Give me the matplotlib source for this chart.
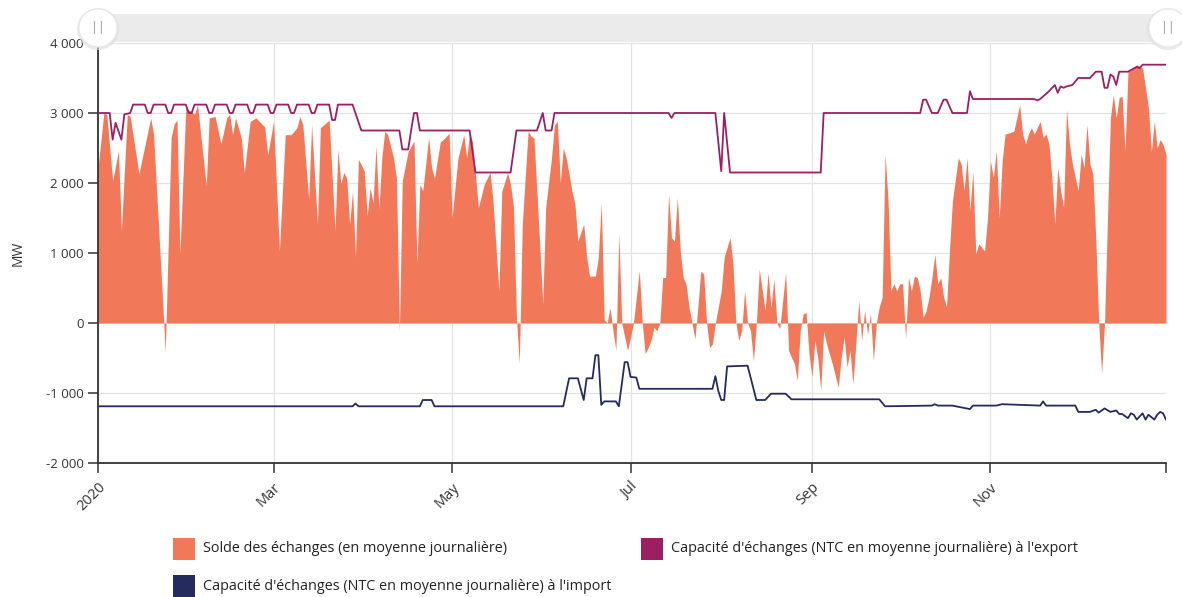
import matplotlib
matplotlib.use("Agg")
import matplotlib.pyplot as plt
import matplotlib.dates as mdates
from matplotlib.patches import Rectangle, Ellipse
from matplotlib.ticker import FuncFormatter, FixedLocator
import pandas as pd

plt.rcParams['font.family'] = ['Open Sans', 'DejaVu Sans']

START = pd.Timestamp('2020-01-01')

# daily exchange balance (MW): day of year, value
solde_day = [0, 2, 3, 5, 7, 8, 10, 11, 14, 18, 19, 22, 23, 25, 26, 27, 28, 30, 32, 33,
             34, 37, 38, 40, 42, 44, 45, 46, 47, 49, 50, 52, 54, 57, 58, 60, 62, 64, 66, 68,
             69, 70, 72, 73, 75, 76, 78, 79, 81, 82, 83, 84, 85, 86, 87, 88, 89, 91, 92, 93,
             94, 95, 96, 97, 98, 99, 101, 102, 103, 104, 106, 108, 109, 110, 111, 113, 114, 115, 117, 118,
             120, 121, 123, 125, 126, 127, 128, 130, 132, 134, 135, 137, 138, 140, 141, 142, 143, 144, 145, 147,
             148, 149, 150, 152, 153, 155, 156, 157, 158, 159, 160, 162, 163, 164, 166, 167, 168, 170, 171, 172,
             173, 174, 175, 176, 177, 178, 179, 180, 181, 182, 183, 185, 186, 187, 188, 189, 190, 191, 192, 193,
             194, 195, 196, 197, 198, 199, 200, 201, 202, 203, 204, 205, 206, 207, 208, 209, 210, 211, 213, 214,
             216, 217, 218, 219, 220, 221, 222, 223, 224, 225, 226, 228, 229, 230, 231, 232, 233, 235, 236, 237,
             238, 239, 240, 241, 242, 243, 244, 245, 246, 247, 248, 249, 251, 253, 254, 255, 256, 257, 258, 259,
             260, 261, 262, 263, 264, 265, 266, 267, 268, 269, 270, 271, 272, 273, 274, 275, 276, 277, 278, 279,
             280, 281, 282, 283, 284, 285, 286, 287, 288, 289, 290, 291, 292, 294, 295, 296, 297, 298, 299, 300,
             301, 302, 303, 304, 305, 306, 307, 308, 309, 310, 311, 313, 314, 315, 316, 317, 318, 319, 320, 321,
             322, 323, 324, 325, 326, 327, 328, 329, 330, 331, 332, 333, 335, 336, 337, 338, 339, 340, 341, 342,
             343, 344, 345, 346, 347, 348, 349, 350, 351, 352, 353, 354, 355, 357, 358, 359, 360, 361, 362, 363,
             364, 365]
solde_mw = [2220, 3000, 2980, 2030, 2460, 1320, 2980, 2950, 2130, 2930, 2690, 370, -420, 2650, 2840, 2900, 990, 3070, 3020, 2980,
            3120, 1960, 2930, 2950, 2560, 2930, 2980, 2690, 2930, 2640, 2150, 2880, 2930, 2800, 2400, 2880, 1030, 2690, 2690, 2790,
            2950, 2830, 1770, 2830, 1410, 2790, 2860, 2900, 1320, 2480, 1990, 2150, 2070, 1410, 1880, 940, 2340, 2170, 1530, 1930,
            1720, 2530, 1620, 2360, 2740, 2690, 2360, 2070, -110, 2030, 2450, 2600, 850, 1980, 1890, 2650, 2220, 2070, 2590, 2620,
            2710, 1500, 2350, 2690, 2360, 2710, 2590, 1650, 1980, 2150, 1740, 460, 1880, 2150, 1980, 1650, 80, -580, 1410, 2740,
            2670, 2640, 1880, 270, 1650, 2360, 2830, 2880, 2000, 2500, 2360, 1880, 1700, 1170, 1410, 940, 670, 670, 940, 1720,
            50, 0, 220, -110, -390, 1270, 0, -200, -390, -200, 0, 750, 0, -440, -350, -250, -60, -110, 0, 650,
            650, 1840, 1220, 1170, 1790, 1030, 650, 550, 220, 0, -230, 220, 740, 700, 0, -350, -300, 0, 460, 940,
            1220, 840, 0, -250, -100, 460, 0, -110, -540, 0, 770, 180, 720, 220, 630, 0, -80, 720, -390, -490,
            -580, -820, -110, 130, 150, -440, -770, -250, -500, -960, -110, -300, -590, -920, -490, -200, -630, -390, -870, -300,
            320, -250, 180, -160, 130, -540, 0, 230, 370, 2410, 1750, 460, 560, 460, 560, 560, -230, 650, 460, 670,
            650, 460, 80, 170, 370, 650, 980, 560, 650, 370, 230, 1030, 1740, 2360, 2270, 1890, 2360, 1600, 2170, 990,
            1130, 1080, 1030, 1500, 2310, 2080, 2460, 1500, 2310, 2700, 2710, 2740, 2930, 3120, 2700, 2560, 2700, 2790, 2700, 2790,
            2880, 2650, 2700, 2560, 2080, 1410, 2220, 1890, 1650, 3050, 2560, 2270, 1890, 2410, 2220, 2830, 2270, 2130, 1200, 0,
            -720, 0, 1500, 2930, 3260, 2930, 3220, 3240, 2450, 3590, 3610, 3650, 3690, 3640, 3360, 3070, 2450, 2880, 2500, 2620,
            2550, 2410]

# export capacity (NTC, MW)
export_day = [0, 4, 5, 6, 8, 9, 11, 12, 16, 17, 18, 19, 23, 24, 25, 26, 30, 31, 32, 33,
              37, 38, 39, 40, 44, 45, 46, 47, 51, 52, 53, 54, 58, 59, 60, 61, 65, 66, 67, 68,
              72, 73, 74, 75, 79, 80, 81, 82, 87, 90, 103, 104, 106, 107, 108, 109, 110, 127, 129, 141,
              143, 150, 152, 153, 155, 156, 195, 196, 197, 211, 213, 214, 216, 247, 248, 281, 282, 283, 285, 287,
              289, 290, 292, 297, 298, 299, 320, 321, 322, 325, 327, 328, 329, 330, 331, 333, 335, 339, 341, 343,
              344, 345, 346, 347, 348, 349, 352, 355, 356, 357, 365]
export_mw = [3000, 3000, 2620, 2860, 2620, 2980, 3000, 3120, 3120, 3000, 3000, 3120, 3120, 3000, 3000, 3120, 3120, 3000, 3000, 3120,
             3120, 3000, 3000, 3120, 3120, 3000, 3000, 3120, 3120, 3000, 3000, 3120, 3120, 3000, 3000, 3120, 3120, 3000, 3000, 3120,
             3120, 3000, 3000, 3120, 3120, 2900, 2900, 3120, 3120, 2750, 2750, 2480, 2480, 2750, 3000, 3000, 2750, 2750, 2150, 2150,
             2750, 2750, 3000, 2750, 2750, 3000, 3000, 2930, 3000, 3000, 2170, 3000, 2150, 2150, 3000, 3000, 3190, 3190, 3000, 3000,
             3190, 3190, 3000, 3000, 3310, 3200, 3200, 3180, 3200, 3310, 3400, 3290, 3380, 3360, 3380, 3400, 3500, 3500, 3590, 3590,
             3360, 3360, 3550, 3520, 3400, 3590, 3590, 3660, 3640, 3690, 3690]

# import capacity (NTC, MW)
import_day = [0, 87, 88, 89, 110, 111, 114, 115, 159, 161, 164, 166, 167, 169, 170, 171, 172, 173, 177, 178,
              180, 181, 182, 184, 185, 210, 211, 212, 213, 214, 215, 222, 225, 228, 230, 235, 237, 267, 269, 285,
              286, 287, 292, 298, 299, 307, 309, 322, 323, 324, 334, 335, 339, 341, 342, 344, 346, 348, 349, 350,
              352, 353, 354, 355, 357, 358, 359, 361, 362, 363, 364, 365]
import_mw = [-1190, -1190, -1150, -1190, -1190, -1100, -1100, -1190, -1190, -790, -790, -1100, -790, -790, -460, -460, -1170, -1120, -1120, -1190,
             -560, -560, -770, -780, -940, -940, -760, -970, -1100, -1100, -620, -610, -1100, -1100, -1010, -1010, -1090, -1090, -1190, -1180,
             -1160, -1180, -1180, -1230, -1180, -1180, -1160, -1180, -1120, -1180, -1180, -1270, -1270, -1240, -1280, -1220, -1270, -1250, -1300, -1300,
             -1360, -1290, -1310, -1380, -1290, -1380, -1310, -1380, -1310, -1270, -1290, -1380]

labels = ["Solde des échanges (en moyenne journalière)",
          "Capacité d'échanges (NTC en moyenne journalière) à l'export",
          "Capacité d'échanges (NTC en moyenne journalière) à l'import"]
colors = ["#F2785A", "#9C1F63", "#262B5E"]


def to_dates(days):
    return START + pd.to_timedelta(days, unit='D')


W, H = 1182, 597
fig = plt.figure(figsize=(W / 100, H / 100), dpi=100)
ax = fig.add_axes([98 / W, 1 - 463 / H, (1166 - 98) / W, (463 - 43) / H])

ax.fill_between(to_dates(solde_day), solde_mw, 0, color=colors[0], linewidth=0, zorder=2)
ax.plot(to_dates(export_day), export_mw, color=colors[1], lw=1.3, zorder=3)
ax.plot(to_dates(import_day), import_mw, color=colors[2], lw=1.3, zorder=3)

ax.set_xlim(START, pd.Timestamp('2020-12-31'))
ax.set_ylim(-2000, 4000)
ax.set_yticks(range(-2000, 4001, 1000))
ax.yaxis.set_major_formatter(FuncFormatter(lambda v, p: f"{v:,.0f}".replace(",", " ")))

xt = pd.to_datetime(['2020-01-01', '2020-03-01', '2020-05-01', '2020-07-01', '2020-09-01', '2020-11-01'])
ax.set_xticks(xt)
ax.set_xticklabels(['2020', 'Mar', 'May', 'Jul', 'Sep', 'Nov'], rotation=45, ha='right',
                   va='top', rotation_mode='anchor', fontsize=10.5)
ax.xaxis.set_minor_locator(FixedLocator([mdates.date2num(pd.Timestamp('2020-12-31'))]))

ax.grid(True, color='#e3e3e3', lw=0.9, zorder=0)
ax.set_axisbelow(True)
for s in ['top', 'right']:
    ax.spines[s].set_visible(False)
for s in ['left', 'bottom']:
    ax.spines[s].set_color('#333333')
    ax.spines[s].set_linewidth(1.3)
ax.tick_params(axis='y', labelsize=9.5)
ax.tick_params(axis='both', which='both', colors='#333333', length=7, width=1.1)
ax.tick_params(axis='x', pad=5)
ax.set_ylabel('MW', fontsize=10, color='#333333', labelpad=14)

# navigator bar with handles at the top
fig.add_artist(Rectangle((100 / W, 1 - 42 / H), (1168 - 100) / W, 28 / H,
                         transform=fig.transFigure, color='#ebebeb', lw=0))
for hx in (98, 1168):
    fig.add_artist(Ellipse((hx / W, 1 - 29 / H), 42 / W, 42 / H, transform=fig.transFigure,
                           facecolor='#dddddd', edgecolor='none', alpha=0.6))
    fig.add_artist(Ellipse((hx / W, 1 - 28 / H), 38 / W, 38 / H, transform=fig.transFigure,
                           facecolor='white', edgecolor='#e8e8e8', lw=0.8))
    fig.text(hx / W, 1 - 28 / H, '||', ha='center', va='center', fontsize=9, color='#999999')

# legend
legend_pos = [(173, 549), (641, 549), (173, 586)]
for (lx, ly), lab, c in zip(legend_pos, labels, colors):
    fig.add_artist(Rectangle((lx / W, 1 - (ly + 11) / H), 22 / W, 22 / H,
                             transform=fig.transFigure, color=c, lw=0))
    fig.text((lx + 30) / W, 1 - ly / H, lab, ha='left', va='center', fontsize=10.4, color='#222222')

fig.savefig('out.png', dpi=100)
